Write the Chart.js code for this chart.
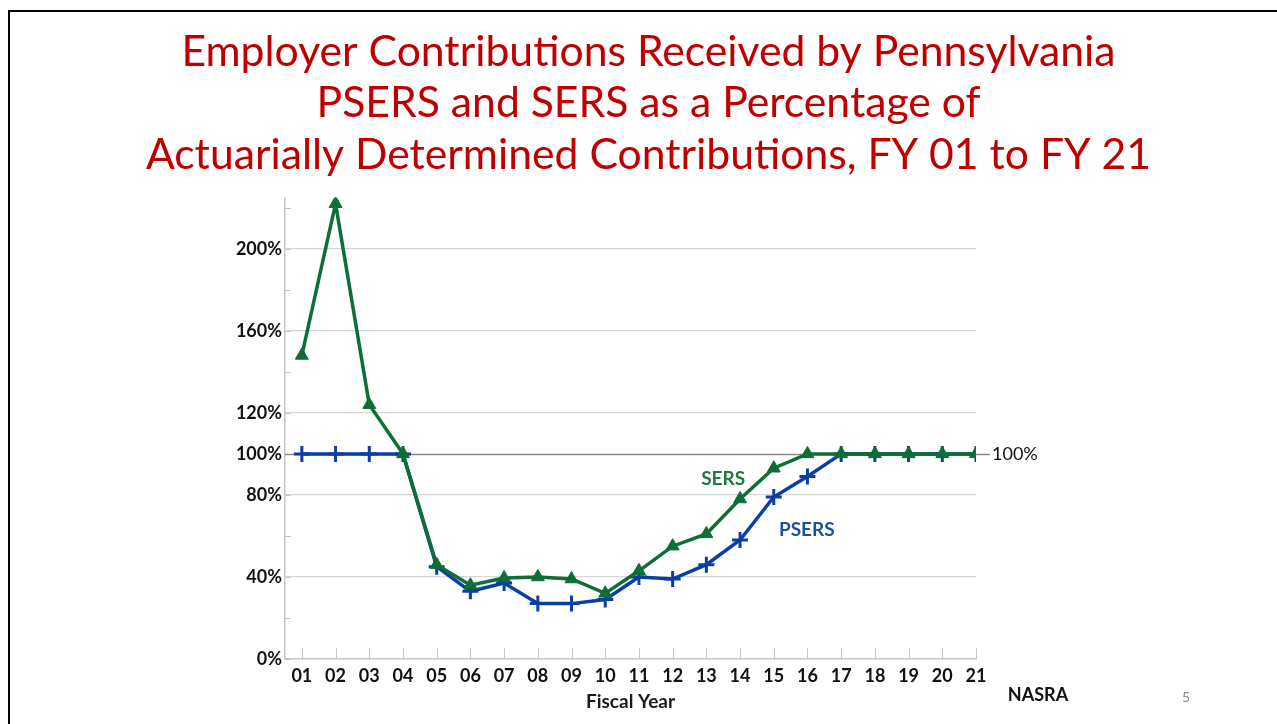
<!DOCTYPE html>
<html>
<head>
<meta charset="utf-8">
<script src="https://cdn.jsdelivr.net/npm/chart.js@4.4.1/dist/chart.umd.min.js"></script>
<style>
  html, body { margin: 0; padding: 0; background: #ffffff; }
  #wrap { position: relative; width: 1277px; height: 724px; overflow: hidden; background: #fff; }
  #frame { position: absolute; left: 8px; top: 10px; width: 1300px; height: 800px;
           border-left: 2px solid #000; border-top: 2px solid #000; }
  #c { position: absolute; left: 0; top: 0; }
</style>
</head>
<body>
<div id="wrap">
  <div id="frame"></div>
  <canvas id="c" width="1277" height="724"></canvas>
</div>
<script>
const fiscalYears = ['01','02','03','04','05','06','07','08','09','10','11','12','13','14','15','16','17','18','19','20','21'];
const sersValues  = [148, 222, 124, 100, 46, 36, 39.5, 40, 39, 32, 43, 55, 61, 78, 93, 100, 100, 100, 100, 100, 100];
const psersValues = [100, 100, 100, 100, 45, 33, 37, 27, 27, 29, 40, 39, 46, 58, 79, 89, 100, 100, 100, 100, 100];
const yTickLabels = { 0: '0%', 40: '40%', 80: '80%', 100: '100%', 120: '120%', 160: '160%', 200: '200%' };
const titleLines = ['Employer Contributions Received by Pennsylvania',
                    'PSERS and SERS as a Percentage of',
                    'Actuarially Determined Contributions, FY 01 to FY 21'];

const GREEN = '#0d6e36';
const BLUE = '#0b3da6';
const AXIS = '#c6c6c6';

const toPoints = arr => arr.map((v, i) => ({ x: i + 1, y: v }));

const extras = {
  id: 'extras',
  beforeDatasetsDraw(chart) {
    const ctx = chart.ctx;
    const xs = chart.scales.x, ys = chart.scales.y;
    const ca = chart.chartArea;
    ctx.save();
    ctx.strokeStyle = AXIS;
    ctx.lineWidth = 1;
    for (let i = 1; i <= fiscalYears.length; i++) {
      const px = Math.round(xs.getPixelForValue(i)) + 0.5;
      ctx.beginPath();
      ctx.moveTo(px, ca.bottom);
      ctx.lineTo(px, ca.bottom - 11);
      ctx.stroke();
    }
    for (let v = 0; v <= 220; v += 20) {
      const py = Math.round(ys.getPixelForValue(v)) + 0.5;
      ctx.beginPath();
      ctx.moveTo(ca.left, py);
      ctx.lineTo(ca.left + 6, py);
      ctx.stroke();
    }
    const y100 = Math.round(ys.getPixelForValue(100)) + 0.5;
    ctx.strokeStyle = '#8a8a8a';
    ctx.lineWidth = 1.5;
    ctx.beginPath();
    ctx.moveTo(ca.left, y100);
    ctx.lineTo(ca.right + 14, y100);
    ctx.stroke();
    ctx.restore();
  },
  afterDraw(chart) {
    const ctx = chart.ctx;
    const xs = chart.scales.x, ys = chart.scales.y;
    const ca = chart.chartArea;
    ctx.save();
    ctx.textBaseline = 'middle';
    ctx.fillStyle = '#111';
    ctx.font = '18px Lato';
    ctx.textAlign = 'left';
    ctx.fillText('100%', ca.right + 16, ys.getPixelForValue(100));
    ctx.textAlign = 'center';
    ctx.font = 'bold 19px Lato';
    ctx.fillStyle = '#1f7a3f';
    ctx.fillText('SERS', xs.getPixelForValue(13.5), ys.getPixelForValue(88));
    ctx.fillStyle = '#1d4fa3';
    ctx.fillText('PSERS', xs.getPixelForValue(15.98), ys.getPixelForValue(63));
    ctx.fillStyle = '#111';
    ctx.font = 'bold 18px Lato';
    ctx.fillText('NASRA', 1038, 695);
    ctx.fillStyle = '#8c8c8c';
    ctx.font = '14px Lato';
    ctx.fillText('5', 1186, 697);
    ctx.restore();
  }
};

new Chart(document.getElementById('c'), {
  type: 'line',
  data: {
    datasets: [
      {
        label: 'SERS',
        data: toPoints(sersValues),
        borderColor: GREEN,
        backgroundColor: GREEN,
        borderWidth: 3.5,
        pointStyle: 'triangle',
        pointRadius: 7.5,
        pointBorderWidth: 1,
        pointBorderColor: GREEN,
        tension: 0
      },
      {
        label: 'PSERS',
        data: toPoints(psersValues),
        borderColor: BLUE,
        backgroundColor: BLUE,
        borderWidth: 3.5,
        pointStyle: 'cross',
        pointRadius: 8,
        pointBorderWidth: 3,
        pointBorderColor: BLUE,
        tension: 0
      }
    ]
  },
  options: {
    responsive: false,
    animation: false,
    events: [],
    layout: { padding: { left: 20, right: 0, top: 0, bottom: 0 } },
    plugins: {
      legend: { display: false },
      tooltip: { enabled: false },
      title: {
        display: true,
        text: titleLines,
        color: '#c00000',
        font: { family: 'Lato', size: 42.7, lineHeight: 1.206, weight: 'normal' },
        padding: { top: 26, bottom: 17 }
      }
    },
    scales: {
      x: {
        type: 'linear',
        min: 0.5,
        max: 21,
        afterBuildTicks: s => { s.ticks = fiscalYears.map((_, i) => ({ value: i + 1 })); },
        afterFit: s => { s.height = 65; },
        ticks: {
          callback: v => fiscalYears[v - 1] || '',
          color: '#111',
          font: { family: 'Lato', size: 18, weight: 'bold' },
          padding: 6,
          maxRotation: 0,
          autoSkip: false
        },
        grid: { display: false, drawTicks: false },
        border: { display: true, color: AXIS, width: 1.5 },
        title: {
          display: true,
          text: 'Fiscal Year',
          color: '#1a1a1a',
          font: { family: 'Lato', size: 19, weight: 'bold' },
          padding: { top: 2, bottom: 11 }
        }
      },
      y: {
        min: 0,
        max: 225,
        afterFit: s => { s.width = 265; },
        ticks: {
          stepSize: 20,
          callback: v => yTickLabels[v] !== undefined ? yTickLabels[v] : '',
          color: '#111',
          font: { family: 'Lato', size: 18, weight: 'bold' },
          padding: 3,
          autoSkip: false
        },
        grid: {
          drawTicks: false,
          color: c => {
            const v = c.tick ? c.tick.value : null;
            if (v === 40 || v === 80 || v === 120 || v === 160 || v === 200) return '#d6d6d6';
            return 'rgba(0,0,0,0)';
          },
          lineWidth: 1.2
        },
        border: { display: true, color: AXIS, width: 1.5 }
      },
      yR: {
        position: 'right',
        display: true,
        min: 0,
        max: 225,
        afterFit: s => { s.width = 301; },
        ticks: { display: false },
        grid: { display: false, drawTicks: false },
        border: { display: false }
      }
    }
  },
  plugins: [extras]
});
</script>
</body>
</html>
